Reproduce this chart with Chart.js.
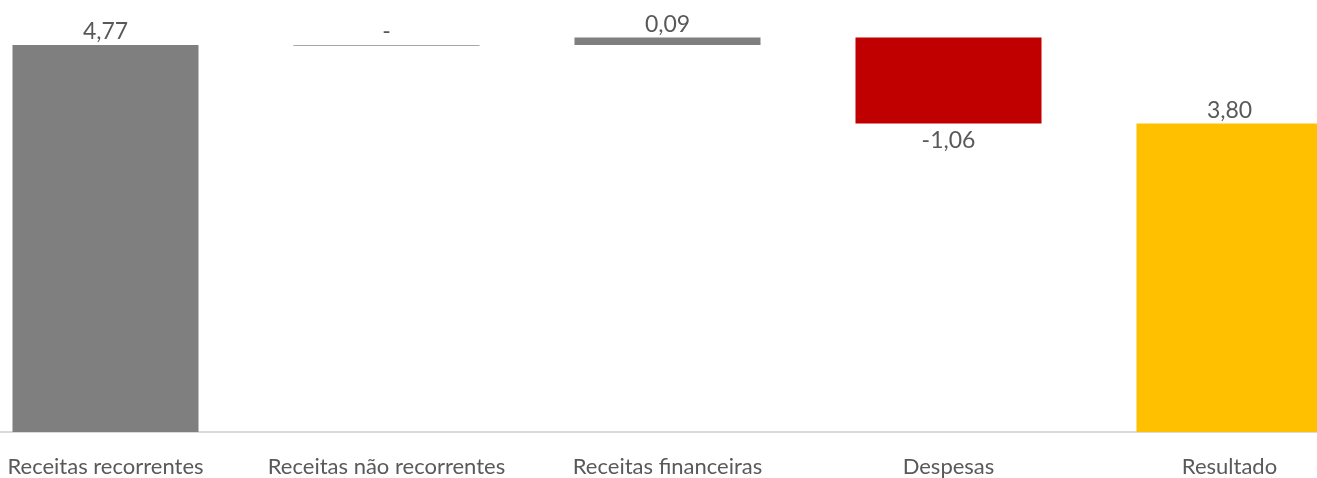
<!DOCTYPE html>
<html><head><meta charset="utf-8">
<script src="https://cdn.jsdelivr.net/npm/chart.js@4.4.1/dist/chart.umd.min.js"></script>
<style>
html,body{margin:0;padding:0;background:#fff;overflow:hidden;width:1317px;height:478px;}
#wrap{position:absolute;left:-35px;top:0;width:1405px;height:478px;}
</style></head>
<body><div id="wrap"><canvas id="c"></canvas></div>
<script>
const categories = ["Receitas recorrentes","Receitas não recorrentes","Receitas financeiras","Despesas","Resultado"];
const values = [4.77, 0, 0.09, -1.06, 3.80];
const isTotal = [false, false, false, false, true];
const barColors = ["#7f7f7f","#a6a6a6","#7f7f7f","#c00000","#ffc000"];

// build waterfall ranges
let run = 0;
const ranges = values.map((v,i)=>{
  if (isTotal[i]) { return [0, v]; }
  const a = run, b = run + v; run = b;
  return [Math.min(a,b), Math.max(a,b)];
});
const fmt = v => v === 0 ? "-" : v.toFixed(2).replace(".", ",");

const FONT = "Lato, 'Open Sans', sans-serif";
const TXT = "#595959";

const labelPlugin = {
  id:'wlabels',
  afterDatasetsDraw(chart){
    const ctx = chart.ctx;
    const meta = chart.getDatasetMeta(0);
    ctx.save();
    // zero-height bars drawn as a thin line at their level
    meta.data.forEach((el,i)=>{
      if (values[i] === 0) {
        ctx.strokeStyle = barColors[i];
        ctx.lineWidth = 1;
        const y = Math.round(el.y) + 0.5;
        ctx.beginPath();
        ctx.moveTo(el.x - el.width/2, y);
        ctx.lineTo(el.x + el.width/2, y);
        ctx.stroke();
      }
    });
    ctx.font = "23px " + FONT;
    ctx.fillStyle = TXT;
    ctx.textAlign = "center";
    meta.data.forEach((el,i)=>{
      const v = values[i];
      const top = Math.min(el.y, el.base), bot = Math.max(el.y, el.base);
      if (v < 0) { ctx.textBaseline = "top"; ctx.fillText(fmt(v), el.x, bot + 5); }
      else { ctx.textBaseline = "bottom"; ctx.fillText(fmt(v), el.x, top - 2); }
    });
    ctx.restore();
  }
};

new Chart(document.getElementById('c'), {
  type:'bar',
  data:{ labels: categories, datasets:[{
    data: ranges,
    backgroundColor: barColors,
    borderWidth: 0,
    categoryPercentage: 1,
    barPercentage: 0.662
  }]},
  options:{
    responsive:true, maintainAspectRatio:false, animation:false,
    layout:{ padding:{ top:10, bottom:0, left:0, right:0 } },
    plugins:{ legend:{display:false}, tooltip:{enabled:false} },
    scales:{
      y:{ display:false, min:0, max:5.2 },
      x:{
        afterFit(s){ s.height = 46; },
        grid:{ display:false, drawTicks:false },
        border:{ display:true, color:"#d9d9d9", width:2 },
        ticks:{ color:TXT, font:{ family:FONT, size:22 }, padding:22, maxRotation:0, autoSkip:false }
      }
    }
  },
  plugins:[labelPlugin]
});
</script></body></html>
